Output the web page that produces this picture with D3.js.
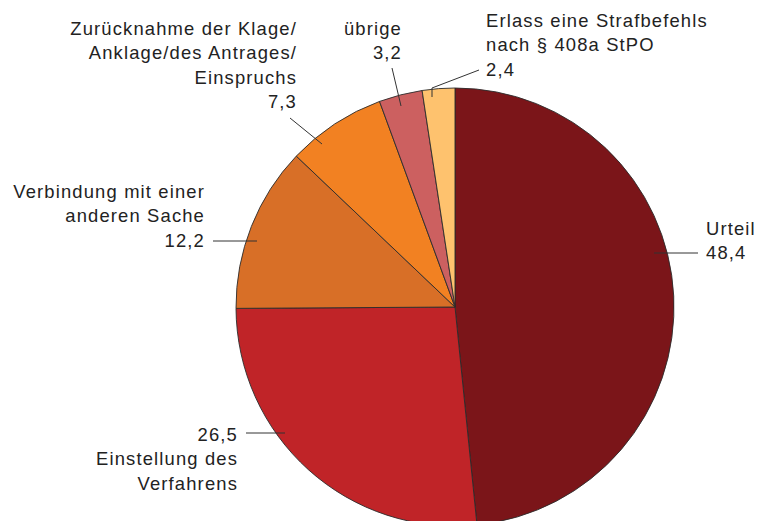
<!DOCTYPE html>
<html>
<head>
<meta charset="utf-8">
<script src="https://cdn.jsdelivr.net/npm/d3@7"></script>
<style>
  body { margin: 0; background: #fff; }
  text { font-family: "Liberation Sans", Arial, sans-serif; fill: #222; }
</style>
</head>
<body>
<div class="container"></div>
<script>
// slice values in percent, clockwise from 12 o'clock
const values = [48.4, 26.5, 12.2, 7.3, 3.2, 2.4];
const nameLines = [
    ["Urteil"],
    ["Einstellung des", "Verfahrens"],
    ["Verbindung mit einer", "anderen Sache"],
    ["Zurücknahme der Klage/", "Anklage/des Antrages/", "Einspruchs"],
    ["übrige"],
    ["Erlass eine Strafbefehls", "nach § 408a StPO"]
];
const colors = ["#7B1519", "#C02428", "#D86F27", "#F28122", "#CC6060", "#FEC26E"];

const width = 757, height = 521;
const cx = 455, cy = 307, radius = 219;

// label layout: anchor point, alignment, value first or last, leader line
const labelLayout = [
    {x: 706, y: 235, anchor: "start", valueFirst: false, leader: [[654, 253], [698, 253]]},
    {x: 238, y: 441, anchor: "end", valueFirst: true, leader: [[246, 433], [285, 433]]},
    {x: 205, y: 198, anchor: "end", valueFirst: false, leader: [[213, 241], [257, 241]]},
    {x: 297, y: 35, anchor: "end", valueFirst: false, leader: [[290, 118], [322, 144]]},
    {x: 402, y: 35, anchor: "end", valueFirst: false, leader: [[392, 68], [401, 106]]},
    {x: 486, y: 27, anchor: "start", valueFirst: false, leader: [[479, 70], [432, 88], [432, 97]]}
];
const lineHeight = 24.3;

const svg = d3.select("div.container").append("svg")
    .attr("width", width)
    .attr("height", height);

const pie = d3.pie().sort(null).value(d => d);
const arc = d3.arc().innerRadius(0).outerRadius(radius);

const pieGroup = svg.append("g")
    .attr("transform", `translate(${cx},${cy})`);

pieGroup.selectAll("path")
    .data(pie(values))
    .enter()
    .append("path")
    .attr("d", arc)
    .attr("fill", (d, i) => colors[i])
    .attr("stroke", "#2b2b2b")
    .attr("stroke-width", 0.9)
    .attr("stroke-linejoin", "round");

// leader lines
const line = d3.line();
svg.selectAll("path.leader")
    .data(labelLayout)
    .enter()
    .append("path")
    .attr("class", "leader")
    .attr("d", d => line(d.leader))
    .attr("fill", "none")
    .attr("stroke", "#333")
    .attr("stroke-width", 1);

// labels
const fmt = v => d3.format(".1f")(v).replace(".", ",");
labelLayout.forEach((l, i) => {
    const lines = l.valueFirst ? [fmt(values[i])].concat(nameLines[i]) : nameLines[i].concat([fmt(values[i])]);
    const t = svg.append("text")
        .attr("text-anchor", l.anchor)
        .style("font-size", "18.4px")
        .style("letter-spacing", "1.15px");
    lines.forEach((s, j) => {
        t.append("tspan")
            .attr("x", l.x)
            .attr("y", l.y + j * lineHeight)
            .text(s);
    });
});
</script>
</body>
</html>
